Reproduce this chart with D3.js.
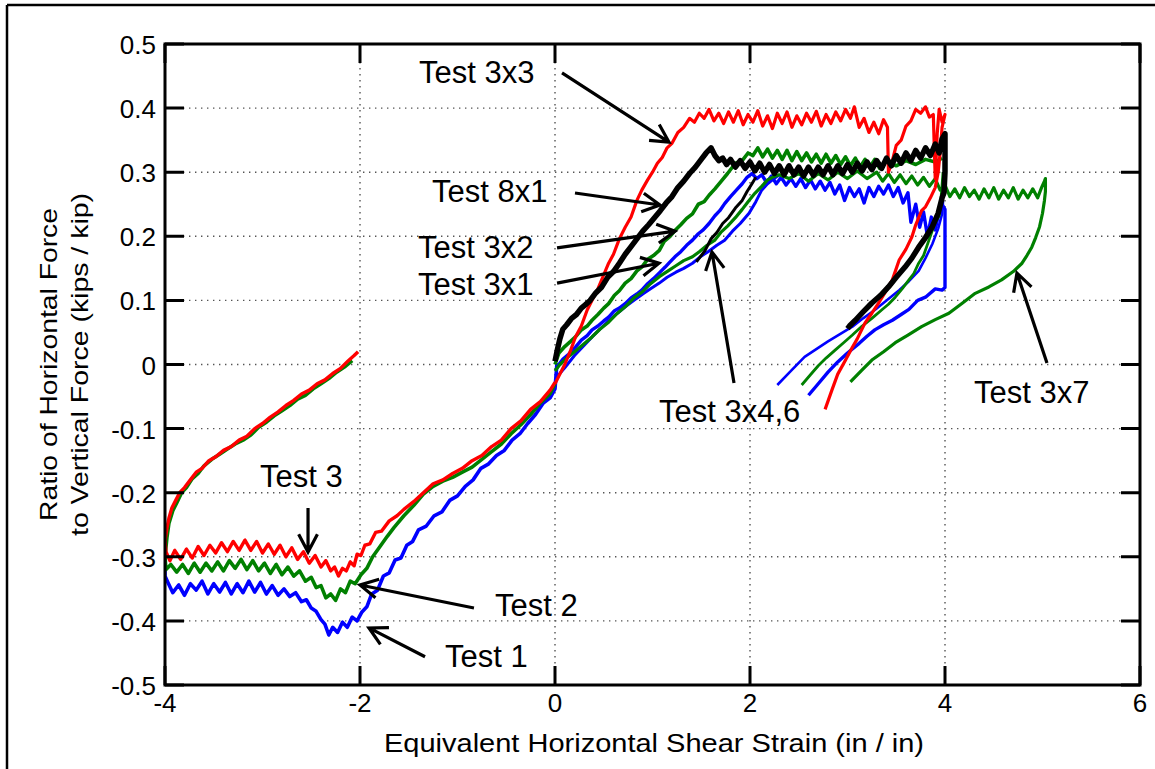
<!DOCTYPE html>
<html>
<head>
<meta charset="utf-8">
<script src="https://cdn.jsdelivr.net/npm/d3@7"></script>
<style>
  html, body { margin: 0; padding: 0; background: #fff; }
  svg { display: block; }
  text { font-family: Arial, "Liberation Sans", Helvetica, sans-serif; fill: #000; }
</style>
</head>
<body>
<svg id="chart" width="1155" height="769"></svg>
<script>
// ---- axis ticks ----
const xTicks = [-4, -2, 0, 2, 4, 6];
const xTickLabels = ["-4", "-2", "0", "2", "4", "6"];
const yTicks = [-0.5, -0.4, -0.3, -0.2, -0.1, 0, 0.1, 0.2, 0.3, 0.4, 0.5];
const yTickLabels = ["-0.5", "-0.4", "-0.3", "-0.2", "-0.1", "0", "0.1", "0.2", "0.3", "0.4", "0.5"];
const xTitle = "Equivalent Horizontal Shear Strain (in / in)";
const yTitle = ["Ratio of Horizontal Force", "to Vertical Force (kips / kip)"];

// ---- measured records: [shear strain, H/V ratio] ----
const test1 = [[0.02,0.002],[0.0,-0.038],[-0.05,-0.052],[-0.12,-0.06],[-0.2,-0.078],[-0.28,-0.092],[-0.36,-0.108],[-0.44,-0.118],[-0.52,-0.134],[-0.6,-0.142],[-0.68,-0.155],[-0.76,-0.162],[-0.84,-0.18],[-0.92,-0.19],[-1.0,-0.205],[-1.08,-0.212],[-1.16,-0.23],[-1.24,-0.236],[-1.32,-0.252],[-1.4,-0.258],[-1.46,-0.276],[-1.52,-0.282],[-1.58,-0.302],[-1.64,-0.305],[-1.7,-0.325],[-1.76,-0.33],[-1.82,-0.352],[-1.88,-0.358],[-1.93,-0.378],[-1.98,-0.386],[-2.03,-0.4],[-2.08,-0.394],[-2.13,-0.41],[-2.18,-0.402],[-2.23,-0.418],[-2.28,-0.41],[-2.32,-0.422],[-2.36,-0.405],[-2.4,-0.398],[-2.45,-0.385],[-2.5,-0.38],[-2.55,-0.367],[-2.6,-0.37],[-2.66,-0.356],[-2.72,-0.362],[-2.78,-0.35],[-2.84,-0.36],[-2.9,-0.345],[-2.96,-0.358],[-3.02,-0.34],[-3.08,-0.355],[-3.14,-0.338],[-3.2,-0.356],[-3.26,-0.342],[-3.32,-0.358],[-3.38,-0.34],[-3.44,-0.355],[-3.5,-0.342],[-3.56,-0.358],[-3.62,-0.338],[-3.68,-0.352],[-3.74,-0.342],[-3.8,-0.36],[-3.86,-0.344],[-3.92,-0.356],[-3.97,-0.34],[-4.0,-0.33],[-4.0,-0.318]];

const test2 = [[0.0,-0.03],[-0.05,-0.045],[-0.15,-0.06],[-0.25,-0.078],[-0.35,-0.094],[-0.45,-0.108],[-0.55,-0.124],[-0.65,-0.136],[-0.75,-0.148],[-0.85,-0.16],[-0.95,-0.168],[-1.05,-0.176],[-1.15,-0.182],[-1.25,-0.19],[-1.35,-0.202],[-1.45,-0.22],[-1.55,-0.236],[-1.65,-0.254],[-1.72,-0.268],[-1.8,-0.285],[-1.87,-0.3],[-1.93,-0.318],[-1.99,-0.328],[-2.05,-0.342],[-2.1,-0.338],[-2.15,-0.356],[-2.2,-0.35],[-2.25,-0.368],[-2.3,-0.358],[-2.35,-0.364],[-2.4,-0.345],[-2.45,-0.348],[-2.5,-0.332],[-2.56,-0.338],[-2.62,-0.322],[-2.68,-0.33],[-2.74,-0.316],[-2.8,-0.328],[-2.86,-0.312],[-2.92,-0.326],[-2.98,-0.31],[-3.04,-0.322],[-3.1,-0.306],[-3.16,-0.32],[-3.22,-0.304],[-3.28,-0.318],[-3.34,-0.306],[-3.4,-0.322],[-3.46,-0.308],[-3.52,-0.322],[-3.58,-0.31],[-3.64,-0.324],[-3.7,-0.31],[-3.76,-0.326],[-3.82,-0.312],[-3.88,-0.324],[-3.94,-0.312],[-3.99,-0.32],[-4.0,-0.3],[-3.98,-0.27],[-3.96,-0.248],[-3.92,-0.228],[-3.88,-0.216],[-3.83,-0.2],[-3.78,-0.192],[-3.72,-0.178],[-3.66,-0.17],[-3.6,-0.158],[-3.52,-0.148],[-3.44,-0.14],[-3.36,-0.132],[-3.28,-0.124],[-3.2,-0.118],[-3.12,-0.11],[-3.04,-0.098],[-2.96,-0.09],[-2.88,-0.08],[-2.8,-0.072],[-2.72,-0.064],[-2.64,-0.054],[-2.56,-0.048],[-2.48,-0.038],[-2.4,-0.03],[-2.32,-0.022],[-2.24,-0.012],[-2.16,-0.004],[-2.08,0.006]];

const test3 = [[0.0,-0.028],[-0.05,-0.04],[-0.15,-0.058],[-0.25,-0.07],[-0.35,-0.088],[-0.45,-0.1],[-0.55,-0.118],[-0.65,-0.128],[-0.75,-0.142],[-0.85,-0.15],[-0.95,-0.162],[-1.05,-0.17],[-1.15,-0.18],[-1.25,-0.186],[-1.35,-0.2],[-1.45,-0.214],[-1.55,-0.226],[-1.62,-0.236],[-1.7,-0.244],[-1.78,-0.26],[-1.84,-0.262],[-1.9,-0.28],[-1.95,-0.282],[-1.99,-0.298],[-2.03,-0.296],[-2.06,-0.314],[-2.1,-0.308],[-2.14,-0.322],[-2.18,-0.318],[-2.22,-0.33],[-2.26,-0.316],[-2.3,-0.322],[-2.35,-0.306],[-2.4,-0.316],[-2.46,-0.298],[-2.52,-0.31],[-2.58,-0.292],[-2.64,-0.304],[-2.7,-0.286],[-2.76,-0.3],[-2.82,-0.282],[-2.88,-0.296],[-2.94,-0.28],[-3.0,-0.294],[-3.06,-0.276],[-3.12,-0.29],[-3.18,-0.274],[-3.24,-0.29],[-3.3,-0.276],[-3.36,-0.292],[-3.42,-0.278],[-3.48,-0.294],[-3.54,-0.282],[-3.6,-0.298],[-3.66,-0.284],[-3.72,-0.302],[-3.78,-0.288],[-3.84,-0.304],[-3.9,-0.29],[-3.95,-0.306],[-3.99,-0.292],[-4.0,-0.275],[-3.98,-0.255],[-3.96,-0.24],[-3.93,-0.224],[-3.89,-0.212],[-3.85,-0.2],[-3.8,-0.192],[-3.74,-0.18],[-3.68,-0.168],[-3.62,-0.162],[-3.55,-0.15],[-3.48,-0.144],[-3.4,-0.134],[-3.32,-0.128],[-3.24,-0.118],[-3.16,-0.112],[-3.08,-0.1],[-3.0,-0.092],[-2.92,-0.082],[-2.84,-0.074],[-2.76,-0.064],[-2.68,-0.056],[-2.6,-0.046],[-2.52,-0.04],[-2.44,-0.03],[-2.36,-0.024],[-2.28,-0.014],[-2.2,-0.006],[-2.12,0.006],[-2.06,0.014],[-2.02,0.02]];

const test3x1 = [[0.02,-0.004],[0.08,0.008],[0.14,0.016],[0.21,0.027],[0.27,0.038],[0.33,0.045],[0.38,0.054],[0.44,0.06],[0.5,0.068],[0.55,0.074],[0.61,0.084],[0.66,0.088],[0.72,0.095],[0.78,0.104],[0.84,0.11],[0.89,0.116],[0.95,0.126],[1.01,0.134],[1.07,0.143],[1.13,0.152],[1.18,0.16],[1.23,0.168],[1.29,0.176],[1.35,0.186],[1.41,0.194],[1.47,0.204],[1.52,0.21],[1.58,0.22],[1.64,0.232],[1.69,0.24],[1.74,0.251],[1.8,0.262],[1.86,0.272],[1.92,0.282],[1.97,0.292],[2.02,0.298],[2.07,0.29],[2.12,0.296],[2.17,0.284],[2.22,0.294],[2.27,0.282],[2.32,0.292],[2.37,0.28],[2.42,0.29],[2.47,0.278],[2.52,0.29],[2.57,0.276],[2.62,0.288],[2.67,0.274],[2.72,0.286],[2.77,0.272],[2.82,0.284],[2.87,0.266],[2.92,0.28],[2.97,0.256],[3.02,0.276],[3.07,0.262],[3.12,0.274],[3.17,0.252],[3.22,0.276],[3.27,0.262],[3.32,0.278],[3.37,0.266],[3.42,0.28],[3.47,0.262],[3.52,0.276],[3.57,0.252],[3.62,0.268],[3.65,0.222],[3.7,0.25],[3.74,0.214],[3.78,0.238],[3.82,0.2],[3.86,0.23],[3.9,0.21],[3.94,0.24],[3.97,0.25],[4.0,0.242],[4.0,0.12],[3.97,0.116],[3.9,0.118],[3.8,0.105],[3.72,0.1],[3.63,0.086],[3.55,0.078],[3.46,0.069],[3.37,0.062],[3.28,0.054],[3.2,0.044],[3.12,0.033],[3.0,0.018],[2.9,0.004],[2.8,-0.012],[2.7,-0.03],[2.6,-0.048]];

const test3x4 = [[0.02,-0.019],[0.1,-0.005],[0.2,0.014],[0.3,0.03],[0.38,0.043],[0.46,0.055],[0.55,0.068],[0.64,0.08],[0.72,0.09],[0.81,0.1],[0.9,0.11],[0.98,0.118],[1.07,0.127],[1.15,0.136],[1.24,0.144],[1.32,0.15],[1.41,0.158],[1.49,0.168],[1.57,0.176],[1.66,0.186],[1.74,0.194],[1.82,0.208],[1.9,0.22],[1.99,0.236],[2.06,0.254],[2.12,0.272],[2.18,0.282],[2.23,0.288],[2.3,0.296]];

const test3x4Unload = [[3.98,0.255],[3.97,0.235],[3.93,0.212],[3.87,0.188],[3.8,0.166],[3.73,0.146],[3.63,0.13],[3.53,0.116],[3.4,0.1],[3.28,0.085],[3.16,0.072],[3.05,0.059],[2.94,0.049],[2.8,0.036],[2.68,0.024],[2.56,0.012],[2.42,-0.01],[2.28,-0.032]];

const test3x7 = [[0.0,-0.01],[0.05,0.0],[0.12,0.01],[0.2,0.02],[0.28,0.03],[0.38,0.043],[0.46,0.055],[0.55,0.066],[0.64,0.08],[0.72,0.09],[0.81,0.104],[0.9,0.114],[0.98,0.126],[1.07,0.137],[1.16,0.146],[1.24,0.154],[1.32,0.162],[1.41,0.168],[1.48,0.176],[1.56,0.186],[1.64,0.194],[1.7,0.206],[1.77,0.216],[1.85,0.229],[1.92,0.242],[1.98,0.254],[2.05,0.267],[2.12,0.278],[2.18,0.288],[2.23,0.292],[2.3,0.296],[2.4,0.29],[2.5,0.298],[2.6,0.286],[2.7,0.298],[2.8,0.288],[2.9,0.3],[3.0,0.29],[3.1,0.302],[3.2,0.29],[3.3,0.3],[3.36,0.286],[3.42,0.298],[3.48,0.284],[3.54,0.296],[3.6,0.282],[3.66,0.294],[3.72,0.28],[3.78,0.292],[3.84,0.278],[3.9,0.29],[3.95,0.272],[4.0,0.28],[4.05,0.262],[4.1,0.274],[4.15,0.26],[4.2,0.276],[4.25,0.262],[4.3,0.272],[4.35,0.258],[4.4,0.274],[4.45,0.26],[4.5,0.276],[4.55,0.258],[4.6,0.272],[4.65,0.26],[4.7,0.276],[4.75,0.258],[4.8,0.272],[4.85,0.26],[4.9,0.274],[4.95,0.26],[4.99,0.276],[5.02,0.286],[5.03,0.29],[5.03,0.27],[5.02,0.256],[5.0,0.236],[4.97,0.215],[4.93,0.198],[4.89,0.183],[4.84,0.17],[4.79,0.158],[4.7,0.145],[4.58,0.132],[4.45,0.121],[4.31,0.111],[4.18,0.096],[4.04,0.08],[3.9,0.07],[3.76,0.059],[3.62,0.046],[3.49,0.034],[3.37,0.02],[3.25,0.007],[3.14,-0.01],[3.03,-0.027]];

const test3x2 = [[0.0,0.0],[0.04,0.018],[0.1,0.028],[0.16,0.036],[0.21,0.043],[0.27,0.054],[0.33,0.06],[0.38,0.069],[0.44,0.078],[0.5,0.088],[0.55,0.095],[0.61,0.108],[0.66,0.115],[0.72,0.127],[0.78,0.134],[0.84,0.146],[0.89,0.152],[0.95,0.164],[1.01,0.17],[1.07,0.178],[1.12,0.192],[1.18,0.2],[1.23,0.209],[1.29,0.218],[1.35,0.228],[1.41,0.235],[1.47,0.25],[1.53,0.254],[1.58,0.264],[1.64,0.274],[1.71,0.287],[1.77,0.298],[1.85,0.314],[1.92,0.318],[1.98,0.33],[2.03,0.326],[2.08,0.338],[2.13,0.324],[2.18,0.336],[2.23,0.322],[2.28,0.334],[2.33,0.32],[2.38,0.334],[2.43,0.318],[2.48,0.332],[2.53,0.318],[2.58,0.33],[2.63,0.316],[2.68,0.328],[2.73,0.314],[2.78,0.328],[2.83,0.314],[2.88,0.326],[2.93,0.312],[2.98,0.324],[3.03,0.31],[3.08,0.322],[3.13,0.308],[3.18,0.32],[3.23,0.308],[3.28,0.32],[3.33,0.306],[3.4,0.318],[3.5,0.31],[3.6,0.318],[3.7,0.312],[3.8,0.32],[3.9,0.316],[3.97,0.322]];

const test3x2Unload = [[3.98,0.3],[3.96,0.26],[3.94,0.232],[3.9,0.222],[3.84,0.196],[3.78,0.17],[3.73,0.158],[3.68,0.142],[3.63,0.132],[3.56,0.118],[3.49,0.105],[3.42,0.094],[3.35,0.085],[3.25,0.072],[3.15,0.06],[3.05,0.046],[2.96,0.034],[2.87,0.022],[2.78,0.01],[2.7,-0.002],[2.62,-0.016],[2.53,-0.032]];

const test3x3 = [[0.0,-0.03],[0.04,-0.018],[0.1,0.0],[0.16,0.022],[0.21,0.043],[0.27,0.06],[0.33,0.085],[0.38,0.1],[0.44,0.118],[0.5,0.14],[0.55,0.158],[0.6,0.172],[0.66,0.196],[0.72,0.214],[0.78,0.23],[0.84,0.256],[0.89,0.272],[0.95,0.288],[1.0,0.3],[1.05,0.314],[1.1,0.323],[1.15,0.338],[1.2,0.345],[1.26,0.362],[1.32,0.37],[1.38,0.384],[1.43,0.378],[1.48,0.392],[1.53,0.384],[1.58,0.398],[1.63,0.38],[1.68,0.392],[1.73,0.376],[1.78,0.394],[1.83,0.378],[1.88,0.396],[1.93,0.374],[1.98,0.39],[2.03,0.378],[2.08,0.396],[2.13,0.372],[2.18,0.388],[2.23,0.368],[2.28,0.392],[2.33,0.376],[2.38,0.394],[2.43,0.37],[2.48,0.388],[2.53,0.374],[2.58,0.392],[2.63,0.378],[2.68,0.395],[2.73,0.372],[2.78,0.39],[2.83,0.376],[2.88,0.394],[2.93,0.38],[2.98,0.398],[3.03,0.384],[3.07,0.402],[3.12,0.37],[3.17,0.384],[3.22,0.362],[3.27,0.378],[3.32,0.36],[3.37,0.382],[3.41,0.37],[3.42,0.3],[3.46,0.318],[3.5,0.342],[3.55,0.35],[3.6,0.372],[3.65,0.38],[3.7,0.398],[3.75,0.392],[3.8,0.402],[3.84,0.386],[3.88,0.39],[3.9,0.29],[3.92,0.36],[3.94,0.398],[3.97,0.378],[4.0,0.39],[3.97,0.37],[3.95,0.33],[3.93,0.3],[3.9,0.276],[3.85,0.26],[3.8,0.246],[3.76,0.24],[3.7,0.218],[3.66,0.199],[3.6,0.18],[3.53,0.163],[3.46,0.132],[3.4,0.116],[3.32,0.096],[3.25,0.08],[3.18,0.065],[3.1,0.04],[3.05,0.027],[2.98,0.007],[2.9,-0.015],[2.84,-0.04],[2.77,-0.07]];

const test8x1 = [[0.0,0.005],[0.02,0.02],[0.05,0.04],[0.08,0.055],[0.12,0.062],[0.17,0.072],[0.22,0.078],[0.27,0.088],[0.31,0.093],[0.36,0.1],[0.42,0.112],[0.48,0.121],[0.54,0.136],[0.6,0.145],[0.66,0.158],[0.72,0.172],[0.78,0.184],[0.84,0.196],[0.9,0.208],[0.96,0.218],[1.02,0.229],[1.08,0.24],[1.14,0.252],[1.2,0.262],[1.26,0.276],[1.32,0.286],[1.38,0.298],[1.44,0.308],[1.5,0.32],[1.55,0.33],[1.6,0.338],[1.64,0.326],[1.68,0.318],[1.72,0.322],[1.76,0.312],[1.8,0.32],[1.85,0.308],[1.9,0.318],[1.95,0.306],[2.0,0.316],[2.05,0.302],[2.1,0.314],[2.15,0.3],[2.2,0.312],[2.25,0.298],[2.3,0.31],[2.35,0.296],[2.4,0.31],[2.45,0.296],[2.5,0.308],[2.55,0.294],[2.6,0.308],[2.65,0.295],[2.7,0.308],[2.75,0.296],[2.8,0.31],[2.85,0.296],[2.9,0.31],[2.95,0.298],[3.0,0.312],[3.05,0.3],[3.1,0.314],[3.15,0.302],[3.2,0.316],[3.25,0.304],[3.3,0.318],[3.35,0.306],[3.4,0.322],[3.45,0.31],[3.5,0.326],[3.55,0.314],[3.6,0.33],[3.65,0.318],[3.7,0.334],[3.75,0.322],[3.8,0.338],[3.85,0.326],[3.9,0.344],[3.94,0.33],[3.97,0.352],[4.0,0.36],[4.0,0.3],[3.99,0.268],[3.97,0.26],[3.93,0.236],[3.87,0.215],[3.8,0.198],[3.73,0.183],[3.66,0.166],[3.59,0.152],[3.5,0.136],[3.42,0.121],[3.34,0.108],[3.25,0.096],[3.16,0.082],[3.08,0.069],[3.02,0.06],[3.0,0.056]];

const test3x6 = [[1.45,0.16],[1.54,0.178],[1.6,0.196],[1.66,0.206],[1.72,0.22],[1.78,0.229],[1.85,0.244],[1.92,0.256],[1.97,0.27],[2.02,0.282],[2.06,0.292]];

// ---- callouts: label, text anchor point, arrow tail, arrow tip (data units) ----
const callouts = [
  { label: "Test 3x3",   at: [-1.395, 0.439],  tail: [0.072, 0.455],   tip: [1.169, 0.347] },
  { label: "Test 8x1",   at: [-1.262, 0.2535], tail: [0.205, 0.2676],  tip: [1.077, 0.2488] },
  { label: "Test 3x2",   at: [-1.405, 0.166],  tail: [0.021, 0.182],   tip: [1.231, 0.208] },
  { label: "Test 3x1",   at: [-1.405, 0.108],  tail: [0.021, 0.127],   tip: [1.067, 0.158] },
  { label: "Test 3x4,6", at: [1.067, -0.0897], tail: [1.836, -0.0289], tip: [1.61, 0.1755] },
  { label: "Test 3x7",   at: [4.297, -0.06],   tail: [5.046, 0.0023],  tip: [4.738, 0.1427] },
  { label: "Test 3",     at: [-3.026, -0.191], tail: [-2.533, -0.2239], tip: [-2.533, -0.2925] },
  { label: "Test 2",     at: [-0.615, -0.392], tail: [-0.831, -0.3799], tip: [-2.0, -0.344] },
  { label: "Test 1",     at: [-1.128, -0.472], tail: [-1.333, -0.456], tip: [-1.908, -0.411] }
];

// ---- drawing ----
const svg = d3.select("#chart");
const W = 1155, H = 769;
const plot = { left: 165, right: 1140, top: 44, bottom: 685 };

const x = d3.scaleLinear().domain([-4, 6]).range([plot.left, plot.right]);
const y = d3.scaleLinear().domain([-0.5, 0.5]).range([plot.bottom, plot.top]);

// figure border (left and top edges)
svg.append("line").attr("x1", 7).attr("y1", 5).attr("x2", W).attr("y2", 5)
  .attr("stroke", "#000").attr("stroke-width", 2.5);
svg.append("line").attr("x1", 7).attr("y1", 5).attr("x2", 7).attr("y2", H)
  .attr("stroke", "#000").attr("stroke-width", 2.5);

// dotted grid
const grid = svg.append("g").attr("stroke", "#555").attr("stroke-width", 1.4)
  .attr("stroke-dasharray", "1.4,4.6");
grid.selectAll("line.gx").data(xTicks.filter(t => t > -4 && t < 6)).join("line")
  .attr("class", "gx")
  .attr("x1", d => x(d)).attr("x2", d => x(d))
  .attr("y1", plot.top).attr("y2", plot.bottom);
grid.selectAll("line.gy").data(yTicks.filter(t => t > -0.5 && t < 0.5)).join("line")
  .attr("class", "gy")
  .attr("x1", plot.left).attr("x2", plot.right)
  .attr("y1", d => y(d)).attr("y2", d => y(d));

// data curves
svg.append("defs").append("clipPath").attr("id", "plotClip")
  .append("rect").attr("x", plot.left).attr("y", plot.top)
  .attr("width", plot.right - plot.left).attr("height", plot.bottom - plot.top);

const line = d3.line().x(d => x(d[0])).y(d => y(d[1]));
const series = [
  { data: test1, color: "#0000ff", w: 3.6 },
  { data: test3x1, color: "#0000ff", w: 3.4 },
  { data: test3x4, color: "#0000ff", w: 3 },
  { data: test3x4Unload, color: "#0000ff", w: 2.6 },
  { data: test2, color: "#008000", w: 3.6 },
  { data: test3x7, color: "#008000", w: 3.2 },
  { data: test3x2, color: "#008000", w: 3.6 },
  { data: test3x2Unload, color: "#008000", w: 2.8 },
  { data: test3, color: "#ff0000", w: 3.4 },
  { data: test3x3, color: "#ff0000", w: 3.2 },
  { data: test3x6, color: "#000000", w: 3 },
  { data: test8x1, color: "#000000", w: 5.5 }
];
svg.append("g").attr("clip-path", "url(#plotClip)")
  .selectAll("path").data(series).join("path")
  .attr("d", s => line(s.data))
  .attr("fill", "none")
  .attr("stroke", s => s.color)
  .attr("stroke-width", s => s.w)
  .attr("stroke-linejoin", "round");

// frame with inward ticks on all four sides
const tickLen = 19;
const tickPaths = [];
xTicks.forEach(t => {
  tickPaths.push(`M${x(t)},${plot.bottom}V${plot.bottom - tickLen}`);
  tickPaths.push(`M${x(t)},${plot.top}V${plot.top + tickLen}`);
});
yTicks.forEach(t => {
  tickPaths.push(`M${plot.left},${y(t)}H${plot.left + tickLen}`);
  tickPaths.push(`M${plot.right},${y(t)}H${plot.right - tickLen}`);
});
svg.append("path").attr("d", tickPaths.join(""))
  .attr("fill", "none").attr("stroke", "#000").attr("stroke-width", 3);
svg.append("rect").attr("x", plot.left).attr("y", plot.top)
  .attr("width", plot.right - plot.left).attr("height", plot.bottom - plot.top)
  .attr("fill", "none").attr("stroke", "#000").attr("stroke-width", 3);

// tick labels
svg.append("g").selectAll("text").data(xTicks).join("text")
  .attr("x", d => x(d)).attr("y", plot.bottom + 27)
  .attr("text-anchor", "middle").style("font-size", "26px")
  .text((d, i) => xTickLabels[i]);
svg.append("g").selectAll("text").data(yTicks).join("text")
  .attr("x", plot.left - 9).attr("y", d => y(d) + 10)
  .attr("text-anchor", "end").style("font-size", "26px")
  .text((d, i) => yTickLabels[i]);

// axis titles
svg.append("text").attr("x", 654).attr("y", 752)
  .attr("text-anchor", "middle").style("font-size", "25px")
  .attr("textLength", 540).attr("lengthAdjust", "spacingAndGlyphs")
  .text(xTitle);
const ytLen = [313, 343];
const yt = svg.append("g").attr("transform", `translate(0,${(plot.top + plot.bottom) / 2})`);
yTitle.forEach((t, i) => {
  yt.append("text").attr("transform", `translate(${57 + i * 31},0) rotate(-90)`)
    .attr("text-anchor", "middle").style("font-size", "24px")
    .attr("textLength", ytLen[i]).attr("lengthAdjust", "spacingAndGlyphs")
    .text(t);
});

// callout labels and arrows
const ann = svg.append("g");
const headLen = 20, headAng = 28 * Math.PI / 180;
callouts.forEach(c => {
  ann.append("text").attr("x", x(c.at[0])).attr("y", y(c.at[1]))
    .style("font-size", "31px").text(c.label);
  const x0 = x(c.tail[0]), y0 = y(c.tail[1]), x1 = x(c.tip[0]), y1 = y(c.tip[1]);
  const a = Math.atan2(y0 - y1, x0 - x1);
  const barbs = [a + headAng, a - headAng].map(b => [x1 + headLen * Math.cos(b), y1 + headLen * Math.sin(b)]);
  ann.append("path")
    .attr("d", `M${x0},${y0}L${x1},${y1}M${barbs[0][0]},${barbs[0][1]}L${x1},${y1}L${barbs[1][0]},${barbs[1][1]}`)
    .attr("fill", "none").attr("stroke", "#000").attr("stroke-width", 3.2)
    .attr("stroke-linecap", "butt").attr("stroke-linejoin", "miter");
});
</script>
</body>
</html>
